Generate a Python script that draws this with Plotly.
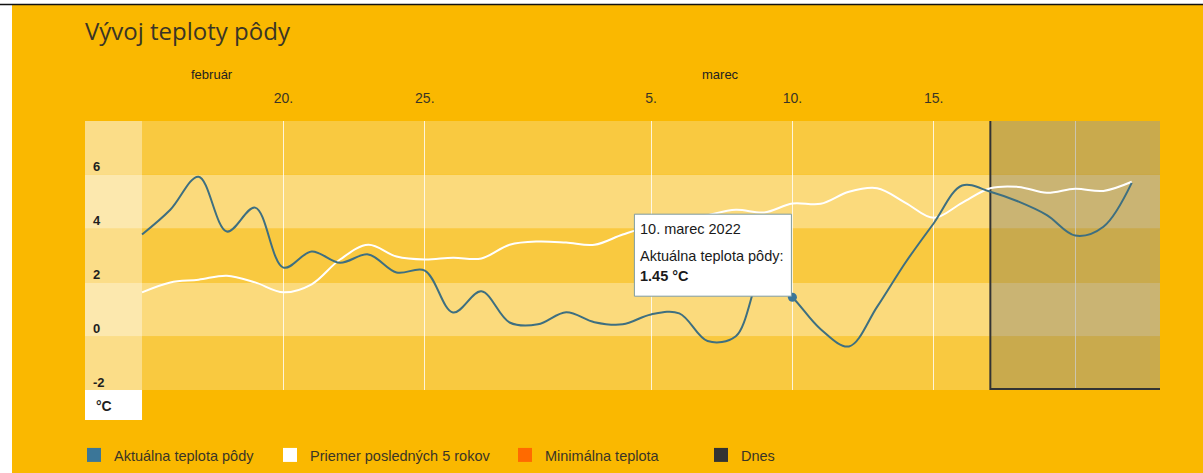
import pandas as pd
import plotly.graph_objects as go

# ---------------- data ----------------
dates = pd.date_range("2022-02-15", "2022-03-22", freq="D")
actual = [3.78, 4.7, 5.93, 3.89, 4.78, 2.55, 3.15, 2.73, 3.04, 2.37, 2.44, 0.88, 1.67, 0.51,
          0.44, 0.89, 0.52, 0.44, 0.81, 0.85, -0.18, 0.0, 2.4, 1.45, 0.26, -0.38, 1.1, 2.74,
          4.2, 5.6, 5.37, 5.0, 4.5, 3.74, 4.07, 5.7]
average = [1.63, 2.0, 2.1, 2.25, 2.0, 1.63, 1.93, 2.85, 3.4, 2.96, 2.85, 2.92, 2.89, 3.4,
           3.52, 3.48, 3.4, 3.78, 4.1, 4.25, 4.5, 4.7, 4.6, 4.93, 4.92, 5.37, 5.5, 4.96,
           4.4, 4.96, 5.5, 5.55, 5.33, 5.48, 5.4, 5.74]
series_names = ["Aktuálna teplota pôdy", "Priemer posledných 5 rokov", "Minimálna teplota", "Dnes"]
series_colors = ["#3B7698", "#FFFFFF", "#FF6A00", "#333333"]
line_color_actual = "#3E6F80"

tick_dates = ["2022-02-20", "2022-02-25", "2022-03-05", "2022-03-10", "2022-03-15", "2022-03-20"]
tick_labels = ["20.", "25.", "5.", "10.", "15.", ""]
month_names = ["február", "marec"]
month_label_dates = ["2022-02-17 11:00", "2022-03-07 11:00"]
y_ticks = [-2, 0, 2, 4, 6]
today = "2022-03-17"
hover_index = 23  # 10. marec 2022
hover_title = "10. marec 2022"

x_start = "2022-02-12 23:36"
x_data_start = "2022-02-15"
x_end = "2022-03-23"
y_range = [-2, 8]

FONT = "Liberation Sans"
TXT = "#3a3526"
W, H = 1203, 473

# ---------------- figure ----------------
fig = go.Figure()

fig.add_trace(go.Scatter(x=dates, y=average, mode="lines", line=dict(color=series_colors[1], width=2, shape="spline", smoothing=1.0),
                         showlegend=False, hoverinfo="skip"))
fig.add_trace(go.Scatter(x=dates, y=actual, mode="lines", line=dict(color=line_color_actual, width=2, shape="spline", smoothing=1.0),
                         showlegend=False, hoverinfo="skip"))
fig.add_trace(go.Scatter(x=[dates[hover_index]], y=[actual[hover_index]], mode="markers",
                         marker=dict(color=series_colors[0], size=9), showlegend=False, hoverinfo="skip"))

# legend entries (one legend each for exact placement)
legend_x_px = [74, 270, 505, 701]
for i, (nm, col) in enumerate(zip(series_names, series_colors)):
    lname = "legend" if i == 0 else f"legend{i+1}"
    fig.add_trace(go.Scatter(x=[None], y=[None], mode="markers", name=nm,
                             marker=dict(symbol="square", size=14, color=col, line=dict(width=0)),
                             legend=lname, showlegend=True))

def px2x(p):
    return (p - 85) / 1075.0

def px2y(p):
    return (390 - p) / 269.0

shapes = []
# page background: white frame, orange area, black top line
shapes.append(dict(type="rect", xref="paper", yref="paper", x0=px2x(12), x1=px2x(1210), y0=px2y(480), y1=px2y(5),
                   fillcolor="#FAB800", line=dict(width=0), layer="below"))
shapes.append(dict(type="line", xref="paper", yref="paper", x0=px2x(0), x1=px2x(1203), y0=px2y(4.5), y1=px2y(4.5),
                   line=dict(color="#111111", width=1.5), layer="below"))
# horizontal bands
band_colors = ["#F9C940", "#FBDA7C"]
for k, lo in enumerate(range(-2, 8, 2)):
    shapes.append(dict(type="rect", xref="paper", yref="y", x0=0, x1=1, y0=lo, y1=lo + 2,
                       fillcolor=band_colors[k % 2], line=dict(width=0), layer="below"))
# label column lighter
shapes.append(dict(type="rect", xref="x", yref="y", x0=x_start, x1=x_data_start, y0=y_range[0], y1=y_range[1],
                   fillcolor="rgba(255,255,255,0.38)", line=dict(width=0), layer="below"))
# unit box
shapes.append(dict(type="rect", xref="x", yref="paper", x0=x_start, x1=x_data_start, y0=px2y(420), y1=0,
                   fillcolor="#FFFFFF", line=dict(width=0), layer="below"))
# future shading
shapes.append(dict(type="rect", xref="x", yref="y", x0=today, x1=x_end, y0=y_range[0], y1=y_range[1],
                   fillcolor="rgba(120,118,100,0.37)", line=dict(width=0), layer="between"))
# today line + base
shapes.append(dict(type="line", xref="x", yref="y", x0=today, x1=today, y0=y_range[0], y1=y_range[1],
                   line=dict(color="#333333", width=2), layer="between"))
shapes.append(dict(type="line", xref="x", yref="y", x0=today, x1=x_end, y0=y_range[0], y1=y_range[0],
                   line=dict(color="#333333", width=4), layer="between"))
# tooltip box
shapes.append(dict(type="rect", xref="x", yref="y", xsizemode="pixel", ysizemode="pixel",
                   xanchor=dates[hover_index], yanchor=actual[hover_index], x0=-158, x1=-1, y0=1, y1=83,
                   fillcolor="#FFFFFF", line=dict(color="#7E9CA2", width=1), layer="above"))

annotations = []
for v in y_ticks:
    annotations.append(dict(xref="paper", yref="y", x=0, y=v, xanchor="left", yanchor="middle", xshift=6, yshift=8,
                            text=f"<b>{v}</b>", showarrow=False, font=dict(family=FONT, size=13, color="#1f1f1f")))
annotations.append(dict(xref="paper", yref="paper", x=0, y=px2y(406), xanchor="left", yanchor="middle", xshift=9,
                        text="<b>°C</b>", showarrow=False, font=dict(family=FONT, size=14, color="#1f1f1f")))
for nm, d in zip(month_names, month_label_dates):
    annotations.append(dict(xref="x", yref="paper", x=d, y=px2y(75), xanchor="center", yanchor="middle",
                            text=nm, showarrow=False, font=dict(family=FONT, size=13, color="#222")))
# tooltip texts
hx, hy = dates[hover_index], actual[hover_index]
for txt, ys in [(hover_title, 68), (series_names[0] + ":", 41), (f"<b>{hy:.2f} °C</b>", 21)]:
    annotations.append(dict(xref="x", yref="y", x=hx, y=hy, xanchor="left", yanchor="middle", xshift=-154, yshift=ys,
                            text=txt, showarrow=False, font=dict(family=FONT, size=14.5, color="#1a1a1a")))

legend_common = dict(orientation="h", xref="container", yref="container", y=1 - 455 / H, yanchor="middle",
                     xanchor="left", bgcolor="rgba(0,0,0,0)", borderwidth=0,
                     font=dict(family=FONT, size=14.5, color=TXT), itemclick=False, itemdoubleclick=False)

layout_legends = {}
for i in range(4):
    lname = "legend" if i == 0 else f"legend{i+1}"
    layout_legends[lname] = dict(legend_common, x=legend_x_px[i] / W)

fig.update_layout(
    width=W, height=H,
    margin=dict(l=85, r=43, t=121, b=83, autoexpand=False),
    paper_bgcolor="#FFFFFF",
    plot_bgcolor="rgba(0,0,0,0)",
    title=dict(text="Vývoj teploty pôdy", x=85 / W, xanchor="left", xref="container",
               y=1 - 32 / H, yanchor="middle", yref="container",
               font=dict(family="Open Sans", size=24, color="#3a3526")),
    xaxis=dict(type="date", range=[x_start, x_end], side="top", tickvals=tick_dates, ticktext=tick_labels,
               showgrid=True, gridcolor="rgba(255,255,255,0.8)", gridwidth=1, ticks="", showline=False,
               zeroline=False, ticklabelstandoff=14, tickfont=dict(family=FONT, size=14, color=TXT)),
    yaxis=dict(range=y_range, showgrid=False, zeroline=False, showticklabels=False, showline=False),
    shapes=shapes,
    annotations=annotations,
    showlegend=True,
    hovermode=False,
    **layout_legends,
)

fig.write_html("out.html")
